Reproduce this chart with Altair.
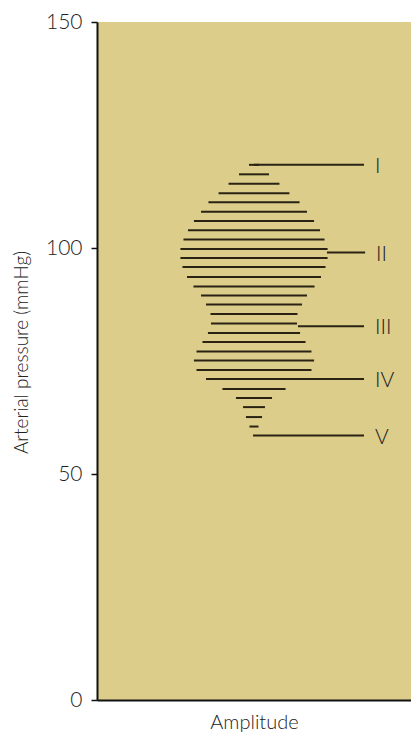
import altair as alt
import pandas as pd

# Oscillation pulses: cuff pressure (mmHg) and half-amplitude (arbitrary units)
pressure = [118.4, 116.3, 114.2, 112.1, 110.1, 108.0, 106.0, 103.9, 101.9, 99.8,
            97.8, 95.8, 93.6, 91.5, 89.5, 87.5, 85.4, 83.3, 81.2, 79.2,
            77.1, 75.1, 73.0, 71.0, 68.8, 66.8, 64.8, 62.6, 60.5]
amplitude = [0.31, 0.93, 1.58, 2.20, 2.83, 3.29, 3.73, 4.10, 4.38, 4.57,
             4.57, 4.44, 4.16, 3.76, 3.29, 2.98, 2.70, 2.67, 2.86, 3.20,
             3.57, 3.73, 3.57, 2.98, 1.96, 1.12, 0.68, 0.50, 0.28]

# Korotkoff phase markers
phase_labels = ["I", "II", "III", "IV", "V"]
phase_pressure = [118.4, 99.0, 82.7, 71.0, 58.5]
phase_start = [0.0, 4.53, 2.73, 2.92, -0.06]
phase_end = [6.83, 6.90, 6.83, 6.83, 6.83]

pulses = pd.DataFrame({"p": pressure, "a": amplitude})
pulses["lo"] = -pulses["a"]
phases = pd.DataFrame({"label": phase_labels, "p": phase_pressure,
                       "x0": phase_start, "x1": phase_end})

FONT = "Lato"
INK = "#2a2314"

xscale = alt.Scale(domain=[-9.75, 9.75], nice=False, zero=False)
yscale = alt.Scale(domain=[0, 150], nice=False, zero=False)

yaxis = alt.Axis(values=[0, 50, 100, 150], grid=False, tickSize=6, tickWidth=1.5,
                 tickColor="#111", domainColor="#111", domainWidth=2,
                 labelFontSize=21, labelFont=FONT, labelFontWeight=300,
                 labelColor="#222", labelPadding=9,
                 title="Arterial pressure (mmHg)", titleFont=FONT,
                 titleFontWeight=300, titleFontSize=19, titleColor="#222",
                 titleX=-70, titleY=330, titleAngle=-90,
                 titleAlign="center", titleBaseline="alphabetic")
xaxis = alt.Axis(ticks=False, labels=False, grid=False, domainColor="#111",
                 domainWidth=2, title="Amplitude", titleFont=FONT,
                 titleFontWeight=300, titleFontSize=20, titleColor="#222",
                 titlePadding=12)

pulse_layer = alt.Chart(pulses).mark_rule(color=INK, strokeWidth=2).encode(
    x=alt.X("lo:Q", scale=xscale, axis=xaxis),
    x2="a:Q",
    y=alt.Y("p:Q", scale=yscale, axis=yaxis),
)

phase_lines = alt.Chart(phases).mark_rule(color=INK, strokeWidth=2).encode(
    x=alt.X("x0:Q", scale=xscale),
    x2="x1:Q",
    y=alt.Y("p:Q", scale=yscale),
)

phase_text = alt.Chart(phases).mark_text(
    align="left", baseline="middle", dx=11, dy=2, fontSize=21,
    font=FONT, fontWeight=300, color="#222"
).encode(
    x=alt.X("x1:Q", scale=xscale),
    y=alt.Y("p:Q", scale=yscale),
    text="label:N",
)

chart = alt.layer(pulse_layer, phase_lines, phase_text).properties(
    width=314, height=678,
    autosize=alt.AutoSizeParams(type="none"),
    padding={"left": 89, "top": 14, "right": 0, "bottom": 35},
).configure_view(fill="#dccd8b", strokeWidth=0)

chart.save("out.html", embed_options={"renderer": "svg", "actions": False})
